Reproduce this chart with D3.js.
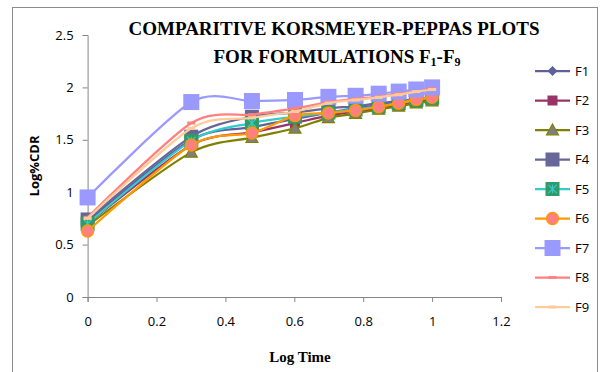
<!DOCTYPE html>
<html><head><meta charset="utf-8">
<script src="https://cdn.jsdelivr.net/npm/d3@7"></script>
<style>body{margin:0;background:#fff}svg{display:block}</style>
</head><body><svg id="c" width="605" height="372"></svg>
<script>
const logTime = [0, 0.301, 0.477, 0.602, 0.699, 0.778, 0.845, 0.903, 0.954, 1.0];
const F1 = [0.72, 1.50, 1.62, 1.70, 1.76, 1.80, 1.83, 1.86, 1.88, 1.90];
const F2 = [0.70, 1.45, 1.57, 1.66, 1.73, 1.77, 1.80, 1.83, 1.86, 1.88];
const F3 = [0.68, 1.38, 1.52, 1.61, 1.71, 1.75, 1.79, 1.82, 1.85, 1.87];
const F4 = [0.74, 1.53, 1.72, 1.76, 1.80, 1.82, 1.85, 1.87, 1.89, 1.91];
const F5 = [0.70, 1.49, 1.66, 1.72, 1.76, 1.79, 1.82, 1.85, 1.88, 1.90];
const F6 = [0.63, 1.45, 1.565, 1.73, 1.755, 1.78, 1.815, 1.848, 1.885, 1.905];
const F7 = [0.95, 1.86, 1.87, 1.88, 1.91, 1.92, 1.94, 1.96, 1.98, 2.00];
const F8 = [0.76, 1.66, 1.74, 1.80, 1.86, 1.89, 1.91, 1.94, 1.96, 1.99];
const F9 = [0.75, 1.61, 1.71, 1.77, 1.85, 1.88, 1.905, 1.93, 1.96, 1.98];
const seriesNames = ["F1","F2","F3","F4","F5","F6","F7","F8","F9"];
const seriesValues = [F1,F2,F3,F4,F5,F6,F7,F8,F9];
const xTicks = [0, 0.2, 0.4, 0.6, 0.8, 1, 1.2];
const yTicks = [0, 0.5, 1, 1.5, 2, 2.5];

const styles = {
  F1:{line:"#5F5F9C", marker:"diamond", fill:"#5F5F9C", stroke:"#5F5F9C", size:10},
  F2:{line:"#993366", marker:"square", fill:"#993366", stroke:"#993366", size:10},
  F3:{line:"#808000", marker:"triangle", fill:"#7F7F7F", stroke:"#808000", size:12},
  F4:{line:"#666699", marker:"square", fill:"#666699", stroke:"#666699", size:14},
  F5:{line:"#33CCCC", marker:"xsquare", fill:"#339966", stroke:"#33CCCC", size:14},
  F6:{line:"#FF9900", marker:"circle", fill:"#FF8080", stroke:"#FF9900", size:12},
  F7:{line:"#9999FF", marker:"square", fill:"#9999FF", stroke:"#9999FF", size:16},
  F8:{line:"#FF8080", marker:"dash", fill:"#FF8080", stroke:"#FF8080", size:8},
  F9:{line:"#FFCC99", marker:"dash", fill:"#FFCC99", stroke:"#FFCC99", size:8}
};

const svg = d3.select("#c");
svg.append("rect").attr("x",12.5).attr("y",7.5).attr("width",585).attr("height",380)
  .attr("fill","none").attr("stroke","#8c8c8c").attr("stroke-width",1);

const x = d3.scaleLinear().domain([0,1.2]).range([87.6, 501]);
const y = d3.scaleLinear().domain([0,2.5]).range([297, 35]);

const axisColor = "#868686";
const xAxis = svg.append("g").attr("transform","translate(0,297)")
  .call(d3.axisBottom(x).tickValues(xTicks).tickFormat(d3.format("")).tickSizeOuter(0).tickSize(5).tickPadding(15));
const yAxis = svg.append("g").attr("transform","translate(87.6,0)")
  .call(d3.axisLeft(y).tickValues(yTicks).tickFormat(d3.format("")).tickSizeOuter(0).tickSize(5).tickPadding(9));
[xAxis,yAxis].forEach(g=>{
  g.selectAll("path,line").attr("stroke",axisColor).attr("stroke-width",1);
  g.selectAll("text").attr("font-family","'Open Sans', 'Liberation Sans', sans-serif").attr("font-size",13).attr("fill","#000");
});

const lineGen = d3.line().x((d,i)=>x(logTime[i])).y(d=>y(d)).curve(d3.curveCardinal.tension(0.2));

function drawMarker(g, type, cx, cy, st){
  const s = st.size, h = s/2;
  if(type==="square"){
    g.append("rect").attr("x",cx-h).attr("y",cy-h).attr("width",s).attr("height",s).attr("fill",st.fill);
  } else if(type==="diamond"){
    g.append("path").attr("d",`M${cx},${cy-h}L${cx+h},${cy}L${cx},${cy+h}L${cx-h},${cy}Z`).attr("fill",st.fill);
  } else if(type==="triangle"){
    g.append("path").attr("d",`M${cx},${cy-h}L${cx+h},${cy+h*0.8}L${cx-h},${cy+h*0.8}Z`).attr("fill",st.fill).attr("stroke",st.stroke).attr("stroke-width",1.2);
  } else if(type==="xsquare"){
    g.append("rect").attr("x",cx-h).attr("y",cy-h).attr("width",s).attr("height",s).attr("fill",st.fill);
    const a=h*0.6;
    g.append("path").attr("d",`M${cx-a},${cy-a}L${cx+a},${cy+a}M${cx+a},${cy-a}L${cx-a},${cy+a}M${cx},${cy-a}L${cx},${cy+a}`).attr("stroke",st.stroke).attr("stroke-width",1.2);
  } else if(type==="circle"){
    g.append("circle").attr("cx",cx).attr("cy",cy).attr("r",h).attr("fill",st.fill).attr("stroke",st.stroke).attr("stroke-width",1.3);
  } else if(type==="dash"){
    g.append("rect").attr("x",cx-h).attr("y",cy-1.5).attr("width",s).attr("height",3).attr("fill",st.fill);
  }
}

const plot = svg.append("g");
seriesNames.forEach((name,k)=>{
  const st = styles[name];
  const g = plot.append("g");
  g.append("path").datum(seriesValues[k]).attr("d",lineGen).attr("fill","none")
    .attr("stroke",st.line).attr("stroke-width",2.25);
  seriesValues[k].forEach((v,i)=>drawMarker(g, st.marker, x(logTime[i]), y(v), st));
});

const leg = svg.append("g");
seriesNames.forEach((name,k)=>{
  const st = styles[name];
  const ly = 71 + k*29.5;
  const g = leg.append("g");
  g.append("line").attr("x1",535).attr("x2",570).attr("y1",ly).attr("y2",ly).attr("stroke",st.line).attr("stroke-width",2.25);
  drawMarker(g, st.marker, 552.5, ly, st);
  g.append("text").attr("x",575).attr("y",ly).attr("dy","0.35em").text(name)
    .attr("font-family","'Open Sans', 'Liberation Sans', sans-serif").attr("font-size",13);
});

const title = svg.append("text").attr("font-family","'Liberation Serif', 'Times New Roman', serif")
  .attr("font-weight","bold").attr("font-size",19).attr("text-anchor","middle");
title.append("tspan").attr("x",334).attr("y",35).text("COMPARITIVE KORSMEYER-PEPPAS PLOTS");
const t2 = svg.append("text").attr("font-family","'Liberation Serif', 'Times New Roman', serif")
  .attr("font-weight","bold").attr("font-size",19).attr("text-anchor","middle").attr("x",337).attr("y",63);
t2.append("tspan").text("FOR FORMULATIONS F");
t2.append("tspan").attr("font-size",12).attr("dy",3).text("1");
t2.append("tspan").attr("dy",-3).text("-F");
t2.append("tspan").attr("font-size",12).attr("dy",3).text("9");

svg.append("text").attr("x",300).attr("y",362).attr("text-anchor","middle")
  .attr("font-family","'Liberation Serif', 'Times New Roman', serif").attr("font-weight","bold").attr("font-size",15).text("Log Time");
svg.append("text").attr("transform","translate(39,166) rotate(-90)").attr("text-anchor","middle")
  .attr("font-family","'Open Sans', 'Liberation Sans', sans-serif").attr("font-weight","bold").attr("font-size",13).text("Log%CDR");
</script></body></html>
